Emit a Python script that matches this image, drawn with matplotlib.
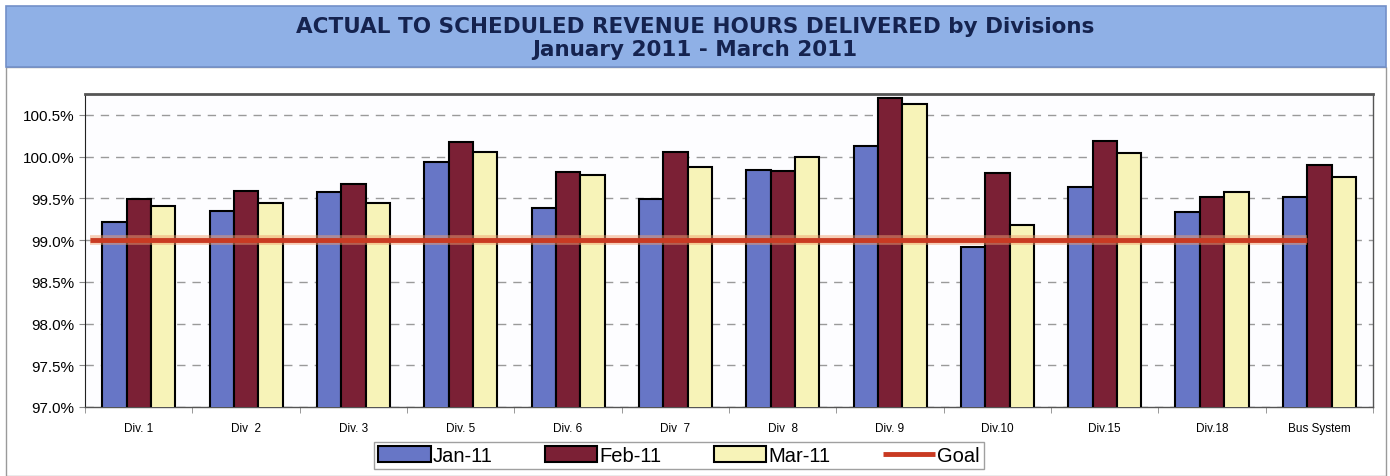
import numpy as np
import matplotlib.pyplot as plt
from matplotlib.patches import Rectangle
from matplotlib.ticker import FuncFormatter, MultipleLocator

plt.rcParams['font.family'] = ['Liberation Sans', 'DejaVu Sans']

# ---- data ----
divisions = ['Div. 1', 'Div  2', 'Div. 3', 'Div. 5', 'Div. 6', 'Div  7',
             'Div  8', 'Div. 9', 'Div.10', 'Div.15', 'Div.18', 'Bus System']
jan_11 = [99.22, 99.35, 99.57, 99.93, 99.39, 99.49, 99.84, 100.13, 98.92, 99.64, 99.34, 99.52]
feb_11 = [99.49, 99.59, 99.67, 100.17, 99.81, 100.06, 99.83, 100.70, 99.80, 100.19, 99.52, 99.90]
mar_11 = [99.41, 99.44, 99.44, 100.05, 99.78, 99.88, 99.99, 100.63, 99.18, 100.04, 99.57, 99.76]
goal = 99.0

title_line1 = 'ACTUAL TO SCHEDULED REVENUE HOURS DELIVERED by Divisions'
title_line2 = 'January 2011 - March 2011'

c_jan = '#6776c6'
c_feb = '#7b2035'
c_mar = '#f7f3b8'
c_goal = '#c93a22'

fig = plt.figure(figsize=(13.9, 4.77), dpi=100)

# title banner and outer chart frame
fig.patches.append(Rectangle((0.004, 0.0), 0.993, 0.857, transform=fig.transFigure,
                             facecolor='white', edgecolor='#9a9a9a', lw=1.0, zorder=-2))
fig.patches.append(Rectangle((0.004, 0.857), 0.993, 0.128, transform=fig.transFigure,
                             facecolor='#8fb0e6', edgecolor='#7390c8', lw=1.2, zorder=-1))
fig.text(0.5, 0.943, title_line1, ha='center', va='center', fontsize=15.5,
         fontweight='bold', color='#15234f', family='DejaVu Sans')
fig.text(0.5, 0.895, title_line2, ha='center', va='center', fontsize=15.5,
         fontweight='bold', color='#15234f', family='DejaVu Sans')

ax = fig.add_axes([0.0612, 0.1447, 0.9266, 0.6561])
x = np.arange(len(divisions))
w = 0.227

ax.bar(x - w, jan_11, w, color=c_jan, edgecolor='black', lw=1.5, label='Jan-11', zorder=3)
ax.bar(x, feb_11, w, color=c_feb, edgecolor='black', lw=1.5, label='Feb-11', zorder=3)
ax.bar(x + w, mar_11, w, color=c_mar, edgecolor='black', lw=1.5, label='Mar-11', zorder=3)

# goal line: soft orange halo + red core
ax.hlines(goal, x[0] - 0.45, x[-1] - w / 2, color='#f0a070', lw=7, alpha=0.5, zorder=4)
ax.hlines(goal, x[0] - 0.45, x[-1] - w / 2, color=c_goal, lw=3.5, zorder=4, label='Goal')

ax.set_xlim(-0.5, len(divisions) - 0.5)
ax.set_ylim(97.0, 100.75)
ax.yaxis.set_major_locator(MultipleLocator(0.5))
ax.yaxis.set_major_formatter(FuncFormatter(lambda v, p: f'{v:.1f}%'))
ax.set_xticks(x)
ax.set_xticklabels(divisions, fontsize=8.5)
ax.tick_params(axis='y', labelsize=11, length=4, color='#888888')
ax.tick_params(axis='x', length=0, pad=11)
ax.set_xticks(np.arange(len(divisions) + 1) - 0.5, minor=True)
ax.tick_params(axis='x', which='minor', length=4, color='#888888')

ax.grid(axis='y', ls=(0, (6, 5)), color='#9a9a9a', lw=1.0, zorder=0)
ax.set_axisbelow(True)
ax.set_facecolor('#fdfdff')
for side in ['right', 'bottom']:
    ax.spines[side].set_color('#555555')
    ax.spines[side].set_linewidth(1.0)
ax.spines['left'].set_color('#222222')
ax.spines['top'].set_color('#555555')
ax.spines['top'].set_linewidth(2.0)

handles, labels = ax.get_legend_handles_labels()
order = [labels.index(l) for l in ['Jan-11', 'Feb-11', 'Mar-11', 'Goal']]
leg = fig.legend([handles[i] for i in order], [labels[i] for i in order],
                 loc='center', bbox_to_anchor=(0.4885, 0.043), ncol=4, fontsize=14.5,
                 frameon=True, fancybox=False, edgecolor='#888888', borderpad=0.2,
                 handlelength=2.6, handleheight=0.8, handletextpad=0.1,
                 columnspacing=2.6)
leg.get_frame().set_linewidth(1.0)

fig.savefig('out.png', dpi=100)
